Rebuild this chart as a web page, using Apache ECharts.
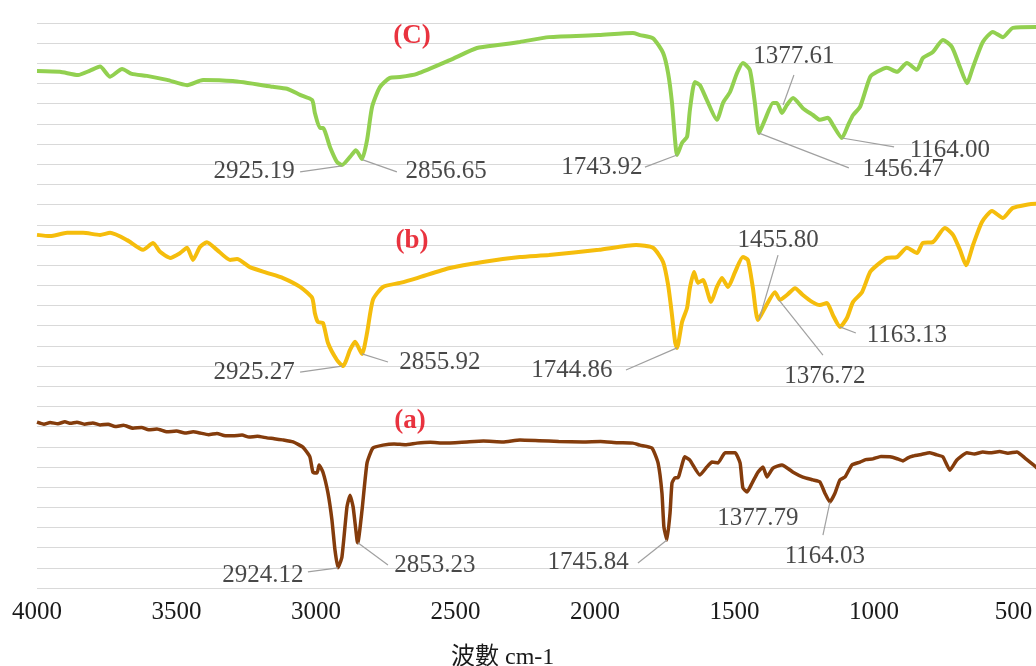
<!DOCTYPE html>
<html><head><meta charset="utf-8">
<script src="https://cdn.jsdelivr.net/npm/echarts@6/dist/echarts.min.js"></script>
<style>html,body{margin:0;padding:0;background:#fff}#c{width:1036px;height:666px}</style>
</head><body><div id="c"></div>
<script>
// x ticks (wavenumber, cm-1)
const xTicks = [4000, 3500, 3000, 2500, 2000, 1500, 1000, 500];

// Spectrum (C)
const cWave = [4000,3918,3853,3810,3774,3738,3695,3660,3606,3534,
  3462,3405,3298,3154,3104,3057,3014,3004,2986,2975,
  2950,2925,2907,2878,2857,2835,2817,2799,2771,2735,
  2699,2638,2520,2423,2341,2269,2165,1986,1864,1839,
  1792,1756,1738,1724,1713,1706,1688,1670,1660,1642,
  1624,1599,1563,1541,1516,1491,1470,1445,1427,1412,
  1391,1362,1348,1330,1312,1290,1255,1219,1194,1165,
  1147,1115,1093,1075,1050,1014,989,954,918,882,
  846,825,789,753,721,692,667,645,610,574,
  538,502,420,400];
const cTrans = [128.1,127.9,127.1,128.2,129.2,126.7,128.6,127.4,126.9,125.9,
  124.6,125.9,125.6,124.2,123.7,122.2,120.9,117.7,114.0,114.0,
  109.3,105.6,104.8,106.8,108.5,106.3,111.0,119.2,124.1,126.4,
  126.6,127.4,130.8,133.8,134.6,135.3,136.5,137.0,137.5,137.0,
  136.2,132.6,127.6,120.2,111.0,107.3,110.3,111.8,118.4,125.4,
  124.6,120.9,116.0,120.2,122.9,127.6,130.1,128.4,120.2,112.7,
  116.0,120.2,120.2,117.7,119.7,121.4,118.9,117.2,116.0,116.5,
  114.7,111.5,114.7,117.2,119.2,126.6,127.9,128.9,127.9,130.1,
  128.4,131.3,132.8,135.8,134.1,129.1,125.1,129.1,135.3,137.8,
  136.5,138.8,139.0,139.0];

// Spectrum (b)
const bWave = [4000,3953,3892,3835,3774,3738,3677,3620,3584,3559,
  3523,3487,3462,3441,3416,3391,3355,3308,3283,3237,
  3176,3118,3057,3014,3004,2993,2975,2957,2925,2903,
  2878,2860,2835,2817,2796,2760,2699,2638,2520,2402,
  2269,2165,1986,1853,1792,1756,1738,1724,1713,1706,
  1688,1670,1660,1645,1631,1613,1584,1563,1545,1523,
  1498,1470,1452,1434,1416,1391,1355,1337,1312,1283,
  1255,1222,1194,1169,1147,1122,1097,1075,1043,1014,
  989,954,918,882,846,825,789,746,717,692,
  670,645,613,577,538,502,420,400];
const bTrans = [87.5,87.2,88.0,88.0,87.5,88.0,86.2,83.8,85.5,83.3,
  81.8,83.0,84.3,81.3,84.5,85.7,83.8,81.3,81.5,79.5,
  78.1,76.8,74.6,71.9,68.1,65.9,65.7,60.7,56.5,55.0,
  59.0,61.0,58.0,63.2,71.4,74.6,75.6,76.8,79.3,80.8,
  82.0,82.5,83.8,85.0,84.3,80.8,75.1,67.6,61.0,59.5,
  65.9,69.4,74.3,78.3,75.6,76.3,70.9,74.6,76.8,74.6,
  78.3,82.0,81.3,74.3,66.4,69.4,73.3,71.4,72.6,74.3,
  72.6,70.9,70.1,70.6,67.6,64.7,66.9,70.9,73.3,78.3,
  80.0,81.8,82.0,84.3,83.0,85.5,85.7,89.2,87.5,83.8,
  80.0,85.0,90.7,93.4,91.7,94.2,95.2,95.2];

// Spectrum (a)
const aWave = [4000,3975,3953,3925,3900,3880,3857,3830,3800,3774,
  3745,3720,3690,3656,3625,3600,3570,3534,3500,3470,
  3440,3416,3385,3355,3330,3298,3265,3240,3210,3176,
  3150,3120,3082,
  3047,3022,3011,2996,2989,2975,2957,2943,2932,2921,
  2907,2889,2878,2867,2853,2850,2835,2817,2796,2760,
  2720,2680,2638,2590,2540,2459,2400,2330,2269,2200,2130,2043,1980,1920,1864,1839,1796,1774,1760,1753,
  1742,1731,1724,1713,1703,1678,1660,1624,1599,1581,
  1559,1534,1498,1480,1470,1455,1437,1416,1398,1384,
  1362,1330,1290,1255,1219,1194,1176,1158,1140,1122,
  1104,1079,1050,1030,1004,975,943,920,896,880,860,830,800,775,753,728,
  703,667,640,610,584,550,520,488,459,420,400];
const aTrans = [41.1,40.6,41.0,40.7,41.2,40.8,41.1,40.6,40.9,40.4,
  40.6,40.0,40.3,39.6,39.8,39.2,39.4,38.7,38.9,38.4,
  38.7,38.4,38.0,38.3,37.8,37.7,37.9,37.4,37.6,37.2,
  37.0,36.7,36.2,
  34.9,32.5,28.7,28.5,30.5,28.7,23.5,16.9,9.4,5.0,
  7.7,20.1,23.0,20.1,11.9,11.2,19.3,31.0,34.7,35.4,
  35.7,35.5,35.9,36.1,35.9,36.2,36.4,36.2,36.7,36.5,36.3,36.2,36.3,36.0,35.9,35.4,34.7,31.0,23.5,15.1,
  11.9,18.6,26.0,27.3,27.3,32.5,31.7,28.0,30.0,31.2,
  31.0,33.5,33.5,31.0,24.8,23.8,26.0,28.7,30.0,27.5,
  29.7,30.5,28.7,27.5,26.8,26.3,23.5,21.3,23.5,26.8,
  27.5,30.5,31.2,31.8,32.0,32.6,32.5,32.1,31.5,32.2,32.7,33.1,33.5,33.0,32.5,29.2,
  31.7,33.5,33.2,33.7,33.5,33.8,33.4,33.7,32.2,30.0,28.5];

// Panel labels
const panelText = ['(C)', '(b)', '(a)'];
const panelWave = [2656, 2656, 2663];
const panelVal = [136.8, 86.0, 41.4];

// Peak annotations: text, text centre (wave, value)
const annoText = ['2925.19','2856.65','1743.92','1377.61','1456.47','1164.00',
  '2925.27','2855.92','1744.86','1455.80','1376.72','1163.13',
  '2924.12','2853.23','1745.84','1377.79','1164.03'];
const annoWave = [3222,2534,1975,1287,896,728,
  3222,2556,2083,1344,1176,882,
  3190,2574,2025,1416,1176];
const annoVal = [103.1,103.1,104.3,131.6,103.6,108.5,
  53.3,55.8,54.0,86.2,52.3,62.7,
  3.2,5.7,6.4,17.3,7.7];

// Leader lines: [from wave, from value, to wave, to value]
const leaders = [
  [3057,103.1,2907,104.6],[2832,106.1,2710,103.1],[1821,104.3,1706,107.3],
  [1287,127.1,1326,119.7],[1412,112.7,1090,104.1],[1115,111.5,928,109.3],
  [3057,53.5,2907,55.0],[2835,58.0,2742,56.0],[1889,54.0,1706,59.5],
  [1344,82.5,1412,66.4],[1183,57.7,1341,71.4],[1122,64.7,1065,63.2],
  [3029,4.0,2921,5.0],[2850,11.2,2742,5.7],[1846,6.2,1742,11.9],
  [1158,21.3,1183,13.1]
];

const serif = '"Liberation Serif","Times New Roman",serif';
const pairs = (w, v) => w.map((x, i) => [x, v[i]]);

const chart = echarts.init(document.getElementById('c'), null, {renderer: 'canvas'});
chart.setOption({
  animation: false,
  backgroundColor: '#fff',
  grid: {left: 37, top: 23, width: 1116, height: 565, containLabel: false, outerBoundsMode: 'none'},
  title: {
    text: '波數 cm-1', left: 446, top: 641,
    textStyle: {fontFamily: '"Liberation Serif","Noto Sans CJK TC",serif', fontSize: 24, fontWeight: 'normal', color: '#1a1a1a'}
  },
  xAxis: {
    type: 'value', min: 0, max: 4000, interval: 500, inverse: true,
    axisLine: {show: false}, axisTick: {show: false}, splitLine: {show: false},
    axisLabel: {
      fontFamily: serif, fontSize: 25, color: '#1a1a1a', margin: 12,
      formatter: v => (xTicks.indexOf(v) >= 0 ? String(v) : '')
    }
  },
  yAxis: {
    type: 'value', min: 0, max: 140, interval: 5,
    axisLabel: {show: false}, axisLine: {show: false}, axisTick: {show: false},
    splitLine: {lineStyle: {color: '#d9d9d9', width: 1}}
  },
  series: [
    {type: 'line', name: 'C', data: pairs(cWave, cTrans), showSymbol: false, smooth: 0.2,
      lineStyle: {color: '#92D050', width: 4}, z: 2},
    {type: 'line', name: 'b', data: pairs(bWave, bTrans), showSymbol: false, smooth: 0.2,
      lineStyle: {color: '#F5BD0C', width: 4}, z: 2},
    {type: 'line', name: 'a', data: pairs(aWave, aTrans), showSymbol: false, smooth: 0.15,
      lineStyle: {color: '#843C0C', width: 3.5}, z: 2},
    {type: 'lines', coordinateSystem: 'cartesian2d', silent: true, z: 3,
      lineStyle: {color: '#a0a0a0', width: 1.2, opacity: 1, curveness: 0},
      data: leaders.map(l => ({coords: [[l[0], l[1]], [l[2], l[3]]]}))},
    {type: 'scatter', silent: true, symbolSize: 1, z: 4,
      itemStyle: {color: 'rgba(0,0,0,0)'},
      label: {show: true, position: 'inside', formatter: '{b}', fontFamily: serif, fontSize: 25, color: '#1a1a1a'},
      data: annoText.map((t, i) => ({name: t, value: [annoWave[i], annoVal[i]]}))},
    {type: 'scatter', silent: true, symbolSize: 1, z: 4,
      itemStyle: {color: 'rgba(0,0,0,0)'},
      label: {show: true, position: 'inside', formatter: '{b}', fontFamily: serif, fontSize: 27, fontWeight: 'bold', color: '#e3000f'},
      data: panelText.map((t, i) => ({name: t, value: [panelWave[i], panelVal[i]]}))}
  ]
});
</script>
</body></html>
